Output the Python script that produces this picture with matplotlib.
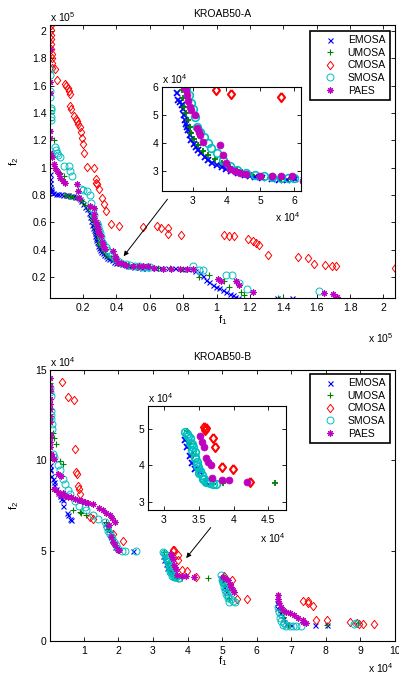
import numpy as np
import matplotlib
matplotlib.use('Agg')
import matplotlib.pyplot as plt
from matplotlib.ticker import FuncFormatter

plt.rcParams['font.family'] = ['Liberation Sans', 'DejaVu Sans']
plt.rcParams['mathtext.fontset'] = 'custom'
plt.rcParams['mathtext.rm'] = 'Liberation Sans'
plt.rcParams['mathtext.it'] = 'Liberation Sans:italic'

# ---- data, both problems in units of 1e4 : [f1, f2] ----
A_EMOSA = np.array([
    [0.02, 9.5], [0.03, 9.2], [0.03, 8.9], [0.04, 8.6], [0.05, 8.4], [0.07, 8.3], [0.1, 8.2],
    [0.2, 8.15], [0.35, 8.1], [0.5, 8.08], [0.65, 8.05], [0.8, 8.03], [0.95, 8.0], [1.1, 7.98],
    [1.25, 7.95], [1.4, 7.92], [1.55, 7.88], [1.7, 7.82], [1.8, 7.7], [1.9, 7.55], [2.0, 7.35],
    [2.1, 7.15], [2.22, 6.94], [2.33, 6.7], [2.42, 6.4], [2.48, 6.1], [2.53, 5.8], [2.58, 5.55],
    [2.64, 5.45], [2.7, 5.36], [2.72, 5.2], [2.74, 5.0], [2.77, 4.82], [2.8, 4.68], [2.84, 4.56],
    [2.87, 4.46], [2.92, 4.28], [2.97, 4.1], [3.04, 3.96], [3.1, 3.85], [3.17, 3.74], [3.26, 3.62],
    [3.36, 3.5], [3.46, 3.38], [3.58, 3.28], [3.72, 3.2], [3.86, 3.12], [4.0, 3.05], [4.15, 2.98],
    [4.35, 2.91], [4.55, 2.84], [4.7, 2.8], [4.84, 2.76], [5.05, 2.72], [5.33, 2.69], [5.55, 2.68],
    [5.8, 2.68], [6.02, 2.69], [6.3, 2.67], [6.7, 2.65], [7.1, 2.63], [7.5, 2.62], [7.9, 2.6],
    [8.3, 2.56], [8.7, 2.45], [9.0, 2.3], [9.2, 2.05], [9.36, 1.8], [9.55, 1.6], [9.76, 1.42],
    [9.95, 1.28], [10.16, 1.15], [10.4, 1.02], [10.57, 0.92], [10.8, 0.76], [10.97, 0.64],
    [11.1, 0.55], [11.27, 0.45], [13.6, 0.45], [14.5, 0.45]])
A_UMOSA = np.array([
    [0.03, 14.2], [0.04, 13.5], [0.24, 12.0], [0.44, 9.76], [0.6, 9.6], [0.84, 9.4], [0.94, 8.0],
    [1.1, 7.95], [1.24, 7.9], [1.4, 7.85], [1.64, 7.8], [1.8, 7.6], [1.94, 7.55], [2.1, 7.25],
    [2.3, 7.0], [2.5, 6.4], [2.6, 6.1], [2.68, 5.9], [2.72, 5.6], [2.76, 5.3], [2.82, 5.06],
    [2.87, 4.8], [2.92, 4.55], [2.97, 4.35], [3.05, 4.15], [3.17, 3.92], [3.3, 3.72], [3.46, 3.56],
    [3.65, 3.4], [3.86, 3.27], [4.1, 3.12], [4.3, 3.03], [4.45, 2.96], [4.75, 2.85], [5.04, 2.78],
    [5.3, 2.72], [5.6, 2.7], [5.9, 2.69], [6.5, 2.66], [7.2, 2.63], [8.0, 2.6], [8.96, 2.0],
    [9.56, 2.15], [10.47, 1.66], [10.77, 1.29], [11.47, 0.92], [11.67, 0.68], [13.67, 0.48],
    [14.0, 0.48]])
A_CMOSA = np.array([
    [0.05, 20.45], [0.06, 20.1], [0.08, 19.75], [0.07, 19.4], [0.1, 19.05], [0.09, 18.7],
    [0.11, 18.35], [0.12, 18.0], [0.14, 17.65], [0.15, 17.3], [0.3, 17.2], [0.45, 16.45],
    [0.94, 16.15], [1.0, 16.0], [1.1, 15.85], [1.18, 15.65], [1.24, 15.4], [1.24, 14.55],
    [1.3, 14.3], [1.44, 13.8], [1.55, 13.6], [1.64, 13.45], [1.72, 13.2], [1.8, 13.0], [1.86, 12.6],
    [1.94, 12.2], [2.0, 11.7], [2.05, 11.1], [2.25, 10.06], [2.65, 9.96], [2.75, 9.15], [2.8, 8.9],
    [2.85, 8.78], [2.95, 8.4], [3.15, 7.8], [3.25, 7.3], [3.35, 6.8], [3.69, 5.9], [4.13, 5.75],
    [5.62, 5.64], [6.45, 5.7], [6.7, 5.6], [7.06, 5.55], [7.1, 5.14], [7.86, 5.1], [10.47, 5.1],
    [10.77, 5.0], [11.07, 5.0], [11.87, 4.77], [12.17, 4.6], [12.37, 4.48], [12.53, 4.36],
    [13.07, 3.63], [14.88, 3.43], [15.48, 3.38], [15.84, 2.96], [16.48, 2.84], [16.94, 2.76],
    [17.18, 2.76], [20.69, 2.64]])
A_SMOSA = np.array([
    [0.03, 17.2], [0.03, 16.8], [0.04, 15.6], [0.04, 15.2], [0.05, 14.4], [0.05, 14.2], [0.05, 13.7],
    [0.05, 13.5], [0.34, 11.48], [0.4, 11.3], [0.44, 11.1], [0.5, 10.9], [0.6, 10.75], [0.84, 10.13],
    [1.14, 10.13], [1.24, 9.76], [1.34, 9.4], [1.85, 8.4], [2.0, 8.35], [2.24, 8.3], [2.4, 8.0],
    [2.45, 7.43], [2.6, 7.0], [2.65, 6.5], [2.82, 5.96], [2.9, 5.7], [2.97, 5.42], [3.02, 5.2],
    [3.07, 4.94], [3.12, 4.58], [3.22, 4.4], [3.35, 4.2], [3.45, 4.0], [3.56, 3.81], [3.71, 3.63],
    [3.9, 3.38], [4.1, 3.15], [4.3, 3.02], [4.59, 2.93], [4.84, 2.85], [5.1, 2.8], [5.33, 2.78],
    [5.6, 2.75], [5.82, 2.73], [6.0, 2.72], [8.56, 2.76], [8.96, 2.5], [9.16, 2.52], [10.57, 2.15],
    [10.93, 2.15], [11.37, 1.53], [11.81, 1.12], [16.14, 0.97]])
A_PAES = np.array([
    [0.03, 18.7], [0.03, 16.27], [0.03, 15.5], [0.03, 12.7], [0.03, 12.2], [0.03, 11.1], [0.05, 10.9],
    [0.14, 10.75], [0.24, 10.26], [0.34, 10.0], [0.44, 9.76], [0.54, 9.5], [0.64, 9.27], [0.8, 9.0],
    [0.94, 8.9], [1.64, 8.78], [1.7, 8.3], [1.74, 7.8], [2.4, 7.2], [2.65, 7.06], [2.65, 6.6],
    [2.68, 6.32], [2.75, 6.0], [2.82, 5.9], [2.85, 5.7], [2.87, 5.48], [2.92, 5.3], [2.97, 5.18],
    [3.07, 5.0], [3.12, 4.53], [3.18, 4.4], [3.22, 4.28], [3.31, 4.04], [3.81, 3.92], [3.9, 3.56],
    [4.0, 3.29], [4.1, 3.05], [4.25, 3.0], [4.4, 2.92], [4.59, 2.87], [5.0, 2.81], [5.33, 2.81],
    [5.62, 2.81], [5.92, 2.81], [6.26, 2.64], [6.8, 2.6], [7.26, 2.59], [7.8, 2.6], [8.2, 2.58],
    [8.6, 2.55], [10.06, 1.86], [10.27, 1.66], [11.17, 1.66], [11.37, 1.4], [12.17, 0.92],
    [16.42, 0.85], [17.0, 0.72], [17.2, 0.55]])

B_EMOSA = np.array([
    [0.02, 9.53], [0.03, 9.72], [0.03, 9.44], [0.06, 9.16], [0.1, 8.95], [0.15, 8.8], [0.15, 8.61],
    [0.2, 8.43], [0.25, 8.2], [0.3, 8.0], [0.35, 7.88], [0.39, 7.78], [0.39, 7.5], [0.5, 7.1],
    [0.54, 6.96], [0.59, 6.77], [0.64, 6.68], [1.62, 6.5], [1.66, 6.3], [1.7, 6.2], [1.76, 6.0],
    [1.82, 5.6], [1.86, 5.4], [1.9, 5.2], [2.42, 4.99], [3.3, 4.7], [3.33, 4.5], [3.38, 4.25],
    [3.4, 4.06], [3.45, 3.9], [3.52, 3.83], [3.6, 3.55], [4.98, 3.5], [5.0, 3.3], [5.05, 3.0],
    [5.1, 2.7], [6.58, 2.08], [6.6, 1.8], [6.66, 1.53], [6.75, 1.2], [6.85, 0.95], [7.0, 0.9],
    [7.7, 0.88], [8.02, 0.88]])
B_UMOSA = np.array([
    [0.02, 14.3], [0.03, 13.95], [0.03, 12.3], [0.1, 11.5], [0.13, 11.23], [0.2, 10.9], [0.32, 9.99],
    [0.39, 9.81], [0.68, 7.23], [0.88, 7.14], [0.92, 7.08], [1.07, 6.96], [1.65, 6.59], [1.7, 6.2],
    [1.78, 5.9], [1.84, 5.5], [1.9, 5.3], [2.0, 5.05], [3.33, 4.95], [3.36, 4.6], [3.42, 4.3],
    [3.5, 3.9], [3.6, 3.6], [3.7, 3.5], [3.85, 3.51], [4.6, 3.51], [5.0, 3.4], [5.05, 3.1],
    [5.15, 2.8], [5.2, 2.4], [6.68, 1.7], [6.75, 1.35], [6.8, 1.16], [6.9, 0.9], [8.02, 0.9],
    [8.92, 0.98]])
B_CMOSA = np.array([
    [0.36, 14.32], [0.54, 13.53], [0.7, 13.36], [0.73, 10.64], [0.78, 9.35], [0.8, 9.22], [0.84, 8.6],
    [0.86, 8.4], [0.88, 8.15], [1.17, 6.86], [1.26, 6.77], [1.84, 5.94], [2.13, 5.54], [3.575, 5.05],
    [3.59, 4.97], [3.6, 5.02], [3.71, 4.74], [3.73, 4.5], [3.83, 3.95], [3.99, 3.9], [4.23, 3.56],
    [5.04, 3.59], [5.29, 3.37], [5.42, 2.3], [5.71, 2.3], [7.33, 2.23], [7.47, 2.23], [7.48, 2.11],
    [7.62, 1.93], [7.72, 1.16], [8.03, 1.16], [8.71, 1.07], [8.89, 1.01], [8.95, 0.96], [9.06, 0.94],
    [9.4, 0.94]])
B_SMOSA = np.array([
    [0.03, 13.99], [0.03, 13.76], [0.05, 13.58], [0.05, 12.75], [0.05, 12.5], [0.05, 12.3],
    [0.07, 12.0], [0.07, 11.74], [0.1, 10.36], [0.15, 10.18], [0.25, 9.72], [0.3, 9.44], [0.39, 8.98],
    [0.44, 8.7], [0.54, 8.34], [0.59, 8.15], [0.73, 7.75], [0.87, 7.5], [1.02, 7.42], [1.07, 7.23],
    [1.26, 6.96], [1.4, 6.77], [1.62, 6.6], [1.66, 6.3], [1.7, 6.1], [1.75, 5.9], [1.8, 5.7],
    [1.86, 5.5], [1.92, 5.3], [2.0, 5.1], [2.1, 5.0], [2.2, 5.0], [2.5, 4.99],
    [3.3, 4.93], [3.33, 4.85], [3.37, 4.74], [3.4, 4.6], [3.42, 4.52], [3.44, 4.38], [3.45, 4.24],
    [3.47, 4.1], [3.49, 3.97], [3.52, 3.85], [3.54, 3.74], [3.57, 3.64], [3.61, 3.56], [3.66, 3.52],
    [3.71, 3.49], [3.34, 4.8], [3.38, 4.62], [3.41, 4.42], [3.45, 4.2], [3.48, 4.0], [3.5, 3.8],
    [3.56, 3.62], [3.64, 3.55], [3.75, 3.5],
    [4.97, 3.64], [4.99, 3.4], [5.02, 3.2], [5.05, 3.0], [5.08, 2.8], [5.12, 2.6], [5.16, 2.4],
    [5.21, 2.17], [5.3, 2.2], [5.38, 2.17], [5.02, 3.5], [5.06, 3.25], [5.1, 3.0], [5.14, 2.7],
    [5.18, 2.5], [5.25, 2.3],
    [6.61, 1.89], [6.63, 1.6], [6.66, 1.3], [6.7, 1.1], [6.75, 0.88], [6.85, 0.85], [6.95, 0.85],
    [7.05, 0.85], [7.15, 0.85], [7.28, 0.85], [6.7, 1.5], [6.8, 1.0], [8.87, 0.98], [8.82, 0.94]])
B_PAES = np.array([
    [0.02, 14.54], [0.02, 14.1], [0.02, 13.86], [0.02, 13.4], [0.02, 13.1], [0.02, 12.85],
    [0.02, 12.48], [0.02, 12.1], [0.03, 11.46], [0.03, 11.28], [0.03, 11.0], [0.03, 10.73],
    [0.04, 10.36], [0.06, 10.3], [0.15, 10.1], [0.25, 9.26], [0.35, 9.16], [0.15, 8.43], [0.25, 8.25],
    [0.3, 8.06], [0.39, 8.2], [0.45, 8.05], [0.55, 7.97], [0.64, 7.95], [0.75, 7.85], [0.85, 7.8],
    [0.95, 7.75], [1.02, 7.69], [1.12, 7.65], [1.26, 7.6], [1.45, 7.35], [1.55, 7.25], [1.65, 7.1],
    [1.75, 7.0], [1.8, 6.8], [1.89, 6.6], [1.72, 6.4], [1.79, 5.76], [1.85, 5.5], [1.9, 5.3],
    [1.98, 5.02], [2.03, 5.02],
    [3.52, 4.81], [3.54, 4.65], [3.57, 4.52], [3.61, 4.2], [3.64, 4.1], [3.67, 4.01], [3.69, 3.65],
    [3.83, 3.6], [3.94, 3.6], [4.19, 3.56],
    [5.02, 3.55], [5.1, 3.45], [5.16, 3.37], [5.22, 3.15], [5.26, 3.0], [5.3, 2.85], [5.33, 2.72],
    [6.61, 2.54], [6.62, 2.3], [6.64, 2.08], [6.7, 1.9], [6.75, 1.71], [6.85, 1.6], [6.95, 1.53],
    [7.09, 1.44], [7.2, 1.3], [7.33, 1.16], [7.43, 0.98], [7.33, 1.05]])

NAMES = ['EMOSA', 'UMOSA', 'CMOSA', 'SMOSA', 'PAES']
DATA_A = [A_EMOSA, A_UMOSA, A_CMOSA, A_SMOSA, A_PAES]
DATA_B = [B_EMOSA, B_UMOSA, B_CMOSA, B_SMOSA, B_PAES]

DIAMOND = [(0, 1), (0.78, 0), (0, -1), (-0.78, 0), (0, 1)]
STYLE = {
    'EMOSA': dict(marker='x', color='#0000ff', ms=3.6, mew=0.8),
    'UMOSA': dict(marker='+', color='#008000', ms=4.5, mew=0.8),
    'CMOSA': dict(marker=DIAMOND, color='#ff0000', ms=6, mew=0.7, mfc='none'),
    'SMOSA': dict(marker='o', color='#00bfbf', ms=5, mew=0.7, mfc='none'),
    'PAES': dict(marker=(8, 2, 0), color='#bf00bf', ms=4.5, mew=0.8),
}
INSET_STYLE = {
    'EMOSA': dict(marker='x', color='#0000ff', ms=4, mew=1.3),
    'UMOSA': dict(marker='+', color='#008000', ms=5, mew=1.3),
    'CMOSA': dict(marker=DIAMOND, color='#ff0000', ms=6.5, mew=1.5, mfc='none'),
    'SMOSA': dict(marker='o', color='#00bfbf', ms=5.5, mew=1.2, mfc='none'),
    'PAES': dict(marker='o', color='#bf00bf', ms=5, mew=0.5, mfc='#bf00bf'),
}

fmt = FuncFormatter(lambda v, p: '%g' % round(v, 4))


def style_axes(ax):
    for s in ax.spines.values():
        s.set_linewidth(0.8)
    ax.tick_params(direction='in', top=True, right=True, length=3, width=0.6,
                   labelsize=7.5, pad=2.5)
    ax.tick_params(axis='x', pad=3.5)
    ax.xaxis.set_major_formatter(fmt)
    ax.yaxis.set_major_formatter(fmt)


def draw(ax, data, scale, styles, with_labels=True):
    handles = []
    for name, d in zip(NAMES, data):
        h, = ax.plot(d[:, 0] / scale, d[:, 1] / scale, linestyle='none',
                     label=name if with_labels else None, **styles[name])
        handles.append(h)
    return handles


fig = plt.figure(figsize=(3.99, 6.75), dpi=100)

# ---------------- KROAB50-A ----------------
ax1 = fig.add_axes([50 / 399, 1 - 298 / 675, 345 / 399, 273 / 675])
h1 = draw(ax1, DATA_A, 10.0, STYLE)
allA = np.vstack(DATA_A) / 10.0
ax1.set_xlim(allA[:, 0].min(), allA[:, 0].max())
ax1.set_ylim(allA[:, 1].min(), allA[:, 1].max())
ax1.set_xticks(np.arange(0.2, 2.01, 0.2))
ax1.set_yticks(np.arange(0.2, 2.01, 0.2))
style_axes(ax1)
ax1.text(0.5, 1.04, 'KROAB50-A', transform=ax1.transAxes, ha='center', va='center', fontsize=7.5)
ax1.text(0.0, 1.005, 'x 10$^5$', transform=ax1.transAxes, ha='left', va='bottom', fontsize=7.5)
ax1.text(0.995, -0.148, 'x 10$^5$', transform=ax1.transAxes, ha='right', va='center', fontsize=7.5)
ax1.set_xlabel('f$_1$', fontsize=8)
ax1.xaxis.set_label_coords(0.5, -0.055)
ax1.set_ylabel('f$_2$', fontsize=8)
ax1.yaxis.set_label_coords(-0.085, 0.5)
ax1.annotate('', xy=(0.433, 0.335), xytext=(0.716, 0.785),
             arrowprops=dict(arrowstyle='-|>', color='k', lw=0.7, mutation_scale=7))
leg = ax1.legend(handles=h1, loc='upper right', bbox_to_anchor=(390 / 399, 1 - 31 / 675),
                 bbox_transform=fig.transFigure, fontsize=7.5, numpoints=1,
                 handlelength=3.0, handletextpad=0.2, borderpad=0.4, labelspacing=0.25,
                 borderaxespad=0, fancybox=False, framealpha=1, edgecolor='k')
leg.get_frame().set_linewidth(1.2)

in1 = fig.add_axes([162 / 399, 1 - 191 / 675, 139 / 399, 104 / 675])
draw(in1, DATA_A, 1.0, INSET_STYLE, with_labels=False)
in1.set_xlim(2.1, 6.2)
in1.set_ylim(2.27, 6.0)
in1.set_xticks([3, 4, 5, 6])
in1.set_yticks([3, 4, 5, 6])
style_axes(in1)
in1.text(0.0, 1.01, 'x 10$^4$', transform=in1.transAxes, ha='left', va='bottom', fontsize=7.5)
in1.text(1.0, -0.25, 'x 10$^4$', transform=in1.transAxes, ha='right', va='center', fontsize=7.5)

# ---------------- KROAB50-B ----------------
ax2 = fig.add_axes([50 / 399, 1 - 641 / 675, 345 / 399, 271 / 675])
h2 = draw(ax2, DATA_B, 1.0, STYLE)
ax2.set_xlim(np.vstack(DATA_B)[:, 0].min(), 10)
ax2.set_ylim(0, 15)
ax2.set_xticks(np.arange(1, 11, 1))
ax2.set_yticks([0, 5, 10, 15])
style_axes(ax2)
ax2.text(0.5, 1.048, 'KROAB50-B', transform=ax2.transAxes, ha='center', va='center', fontsize=7.5)
ax2.text(0.0, 1.005, 'x 10$^4$', transform=ax2.transAxes, ha='left', va='bottom', fontsize=7.5)
ax2.text(0.995, -0.1, 'x 10$^4$', transform=ax2.transAxes, ha='right', va='center', fontsize=7.5)
ax2.set_xlabel('f$_1$', fontsize=8)
ax2.xaxis.set_label_coords(0.5, -0.05)
ax2.set_ylabel('f$_2$', fontsize=8)
ax2.yaxis.set_label_coords(-0.085, 0.5)
ax2.annotate('', xy=(3.91, 4.47), xytext=(4.72, 6.4),
             arrowprops=dict(arrowstyle='-|>', color='k', lw=0.7, mutation_scale=7))
leg2 = ax2.legend(handles=h2, loc='upper right', bbox_to_anchor=(390 / 399, 1 - 374 / 675),
                  bbox_transform=fig.transFigure, fontsize=7.5, numpoints=1,
                  handlelength=3.0, handletextpad=0.2, borderpad=0.4, labelspacing=0.25,
                  borderaxespad=0, fancybox=False, framealpha=1, edgecolor='k')
leg2.get_frame().set_linewidth(1.2)

in2 = fig.add_axes([148.3 / 399, 1 - 510 / 675, 137.7 / 399, 104 / 675])
draw(in2, DATA_B, 1.0, INSET_STYLE, with_labels=False)
in2.set_xlim(2.775, 4.754)
in2.set_ylim(2.78, 5.63)
in2.set_xticks([3, 3.5, 4, 4.5])
in2.set_yticks([3, 4, 5])
style_axes(in2)
in2.text(0.0, 1.01, 'x 10$^4$', transform=in2.transAxes, ha='left', va='bottom', fontsize=7.5)
in2.text(1.0, -0.27, 'x 10$^4$', transform=in2.transAxes, ha='right', va='center', fontsize=7.5)

fig.savefig('out.png', dpi=100)
